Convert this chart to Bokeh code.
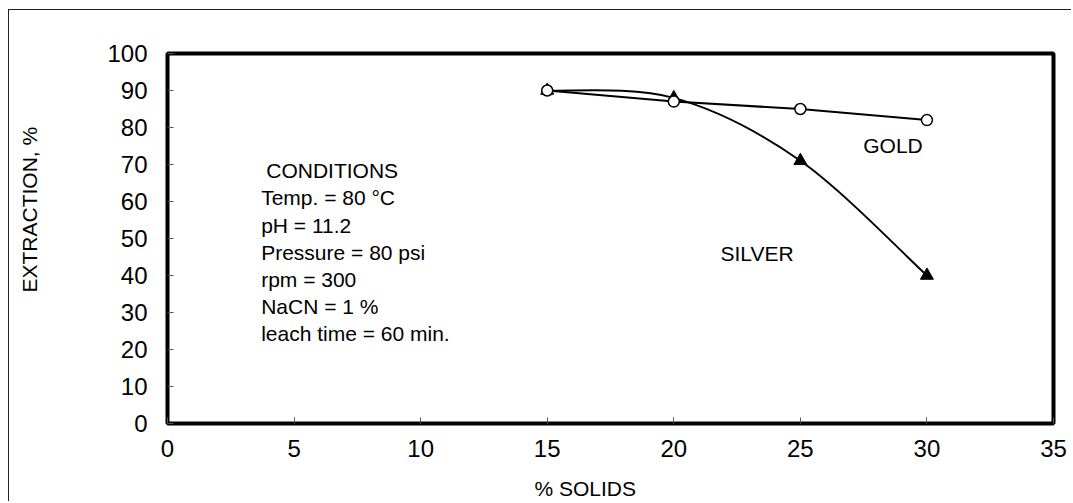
import numpy as np
from bokeh.plotting import figure
from bokeh.models import Range1d, Label, FixedTicker, Title
from bokeh.embed import file_html
from bokeh.resources import INLINE

# ---- data ----
solids = [15, 20, 25, 30]
gold = [90, 87, 85, 82]
silver = [90, 88, 71, 40]
x_ticks = [0, 5, 10, 15, 20, 25, 30, 35]
y_ticks = [0, 10, 20, 30, 40, 50, 60, 70, 80, 90, 100]
conditions = ["Temp. = 80 \u00b0C", "pH = 11.2", "Pressure = 80 psi", "rpm = 300",
              "NaCN = 1 %", "leach time = 60 min."]

FONT = "Liberation Sans"

p = figure(width=1063, height=492, output_backend="svg", toolbar_location=None,
           x_range=Range1d(0, 35), y_range=Range1d(0, 100),
           min_border_left=158, min_border_right=19, min_border_top=43, min_border_bottom=79)
p.styles = {"margin-left": "8px", "margin-top": "9px",
            "border-top": "1.5px solid #222", "border-left": "1.5px solid #222"}
p.grid.visible = False
p.outline_line_color = "black"
p.outline_line_width = 4
p.background_fill_color = "white"
p.border_fill_color = "white"

for ax in (p.xaxis[0], p.yaxis[0]):
    ax.axis_line_color = None
    ax.major_tick_in = 6
    ax.major_tick_out = 0
    ax.major_tick_line_color = "#555555"
    ax.major_tick_line_width = 1
    ax.minor_tick_line_color = None
    ax.major_label_text_font = FONT
    ax.major_label_text_font_size = "24px"
    ax.major_label_text_color = "black"
p.xaxis.ticker = FixedTicker(ticks=x_ticks)
p.yaxis.ticker = FixedTicker(ticks=y_ticks)
p.xaxis.major_label_standoff = 16
p.yaxis.major_label_standoff = 20

# axis titles (placed like the reference, off-centre)
title_kw = dict(text_font=FONT, text_font_size="21px", text_font_style="normal", text_color="black")
if "padding" in Title.properties():
    p.add_layout(Title(text="% SOLIDS", align="left", offset=367, vertical_align="top", standoff=0,
                       padding=dict(left=0, right=0, top=17, bottom=0), **title_kw), "below")
    p.add_layout(Title(text="EXTRACTION, %", align="left", offset=131, vertical_align="bottom", standoff=0,
                       padding=dict(left=0, right=0, top=0, bottom=64), **title_kw), "left")
else:
    p.add_layout(Title(text=".", text_font_size="1px", standoff=13, text_color="white"), "below")
    p.add_layout(Title(text=".", text_font_size="1px", standoff=54, text_color="white"), "left")
    p.add_layout(Title(text="% SOLIDS", align="left", offset=367, vertical_align="bottom",
                       standoff=0, **title_kw), "below")
    p.add_layout(Title(text="EXTRACTION, %", align="left", offset=131, vertical_align="top",
                       standoff=10, **title_kw), "left")

# gold: straight segments with open circles
p.line(solids, gold, line_color="black", line_width=2)

# silver: smoothed curve (Catmull-Rom style bezier through the data points)
xs = np.array(solids, dtype=float)
ys = np.array(silver, dtype=float)
n = len(xs)
x0, y0, x1, y1, cx0, cy0, cx1, cy1 = [], [], [], [], [], [], [], []
for i in range(n - 1):
    pa = i - 1 if i > 0 else i
    pb = i + 2 if i + 2 < n else i + 1
    x0.append(xs[i]); y0.append(ys[i]); x1.append(xs[i + 1]); y1.append(ys[i + 1])
    cx0.append(xs[i] + (xs[i + 1] - xs[pa]) / 6); cy0.append(ys[i] + (ys[i + 1] - ys[pa]) / 6)
    cx1.append(xs[i + 1] - (xs[pb] - xs[i]) / 6); cy1.append(ys[i + 1] - (ys[pb] - ys[i]) / 6)
p.bezier(x0=x0, y0=y0, x1=x1, y1=y1, cx0=cx0, cy0=cy0, cx1=cx1, cy1=cy1,
         line_color="black", line_width=2)

p.scatter(solids, silver, marker="triangle", size=13, fill_color="black", line_color="black")
p.scatter(solids, gold, marker="circle", size=11, fill_color="white", line_color="black", line_width=1.5)

# texts inside the plot
def lab(x, y, t, size="21px", align="left"):
    p.add_layout(Label(x=x, y=y, text=t, text_font=FONT, text_font_size=size, text_color="black",
                       text_align=align, text_baseline="middle"))

lab(3.9, 68.4, "CONDITIONS")
cond_y = [61.0, 53.6, 46.3, 39.0, 31.7, 24.4]
for t, yy in zip(conditions, cond_y):
    lab(3.7, yy, t)

lab(28.66, 75.1, "GOLD", align="center")
lab(23.29, 45.9, "SILVER", align="center")

open("out.html", "w").write(file_html(p, INLINE))
